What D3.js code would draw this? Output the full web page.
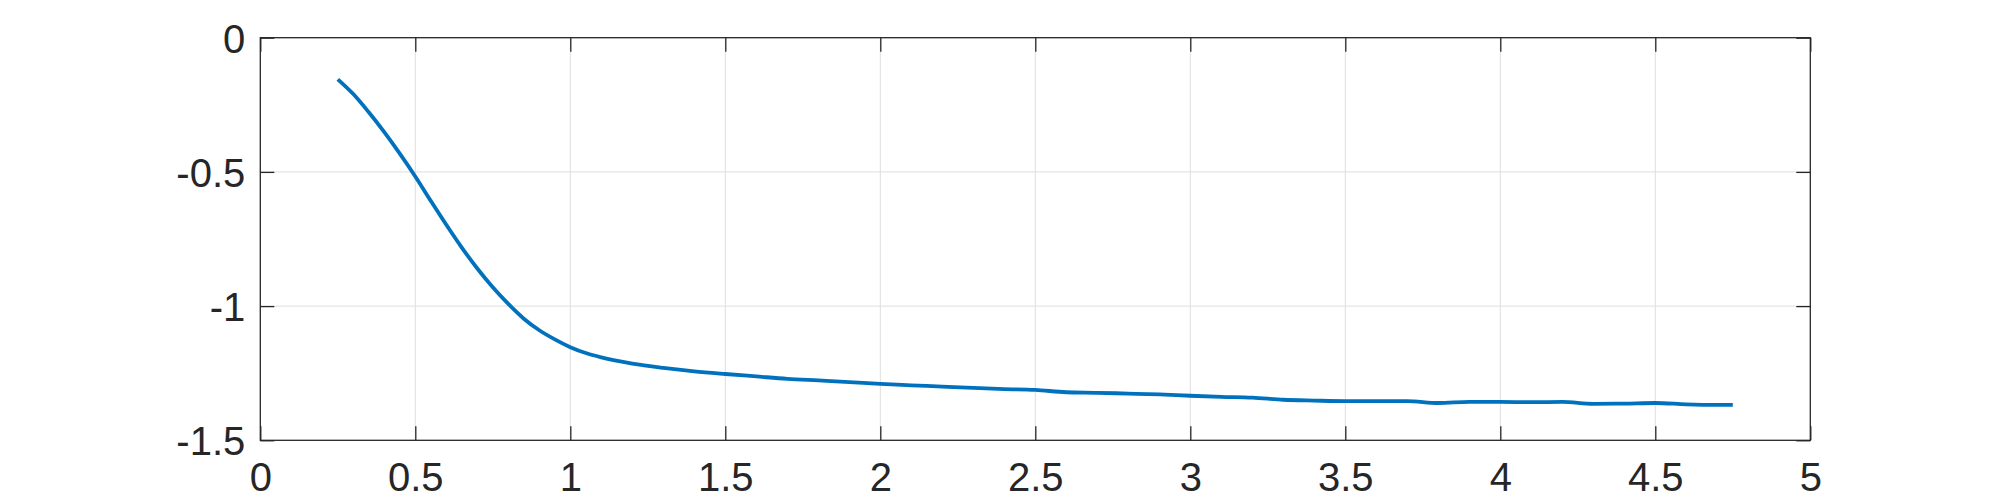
<!DOCTYPE html>
<html>
<head>
    <title>Line Plot</title>
    <script src="https://d3js.org/d3.v7.min.js"></script>
    <style>
        body { margin: 0; background: #fff; }
        .tick text { font-family: "Liberation Sans", Arial, sans-serif; font-size: 40px; fill: #262626; }
    </style>
</head>
<body>
    <svg id="chart"></svg>

    <script>
        const xValues = [0.25, 0.30, 0.35, 0.40, 0.45, 0.50, 0.55, 0.60, 0.65, 0.70,
                         0.75, 0.80, 0.85, 0.90, 0.95, 1.00, 1.05, 1.10, 1.20, 1.30,
                         1.40, 1.50, 1.60, 1.70, 1.80, 1.90, 2.00, 2.10, 2.20, 2.30,
                         2.40, 2.50, 2.60, 2.70, 2.80, 2.90, 3.00, 3.10, 3.20, 3.30,
                         3.40, 3.50, 3.60, 3.70, 3.80, 3.90, 4.00, 4.10, 4.20, 4.30,
                         4.40, 4.50, 4.60, 4.70, 4.75];
        const yValues = [-0.155, -0.210, -0.278, -0.352, -0.432, -0.517, -0.608, -0.697, -0.782, -0.860,
                         -0.930, -0.992, -1.047, -1.090, -1.124, -1.153, -1.175, -1.191, -1.214, -1.230,
                         -1.243, -1.253, -1.262, -1.271, -1.277, -1.283, -1.290, -1.295, -1.300, -1.305,
                         -1.309, -1.312, -1.321, -1.323, -1.326, -1.329, -1.334, -1.338, -1.341, -1.349,
                         -1.352, -1.354, -1.354, -1.354, -1.361, -1.357, -1.357, -1.358, -1.357, -1.364,
                         -1.363, -1.361, -1.366, -1.368, -1.368];
        const xTicks = [0, 0.5, 1, 1.5, 2, 2.5, 3, 3.5, 4, 4.5, 5];
        const yTicks = [-1.5, -1, -0.5, 0];

        const data = xValues.map((x, i) => ({ x: x, y: yValues[i] }));

        const margin = { top: 37.7, left: 260.3 };
        const width = 1550;
        const height = 402.6;

        const svg = d3.select("#chart")
            .attr("width", 2000)
            .attr("height", 500)
            .append("g")
            .attr("transform", `translate(${margin.left},${margin.top})`);

        const x = d3.scaleLinear().domain([0, 5]).range([0, width]);
        const y = d3.scaleLinear().domain([-1.5, 0]).range([height, 0]);

        // grid
        svg.append("g")
            .selectAll("line")
            .data(xTicks.slice(1, -1))
            .join("line")
            .attr("x1", d => x(d)).attr("x2", d => x(d))
            .attr("y1", 0).attr("y2", height)
            .attr("stroke", "#dedede").attr("stroke-width", 1);

        svg.append("g")
            .selectAll("line")
            .data(yTicks.slice(1, -1))
            .join("line")
            .attr("x1", 0).attr("x2", width)
            .attr("y1", d => y(d)).attr("y2", d => y(d))
            .attr("stroke", "#dedede").attr("stroke-width", 1);

        const fmt = d => String(d);

        const styleAxis = g => {
            g.select(".domain").remove();
            g.selectAll(".tick line").attr("stroke", "#262626").attr("stroke-width", 1.3);
        };

        svg.append("g")
            .attr("transform", `translate(0,${height})`)
            .call(d3.axisBottom(x).tickValues(xTicks).tickFormat(fmt).tickSizeInner(-14).tickSizeOuter(0).tickPadding(22))
            .call(styleAxis);

        svg.append("g")
            .call(d3.axisTop(x).tickValues(xTicks).tickFormat("").tickSizeInner(-14).tickSizeOuter(0))
            .call(styleAxis);

        svg.append("g")
            .call(d3.axisLeft(y).tickValues(yTicks).tickFormat(fmt).tickSizeInner(-14).tickSizeOuter(0).tickPadding(15))
            .call(styleAxis)
            .selectAll(".tick text").attr("dy", "0.36em");

        svg.append("g")
            .attr("transform", `translate(${width},0)`)
            .call(d3.axisRight(y).tickValues(yTicks).tickFormat("").tickSizeInner(-14).tickSizeOuter(0))
            .call(styleAxis);

        // box
        svg.append("rect")
            .attr("width", width).attr("height", height)
            .attr("fill", "none")
            .attr("stroke", "#262626").attr("stroke-width", 1.3);

        const line = d3.line()
            .x(d => x(d.x))
            .y(d => y(d.y))
            .curve(d3.curveMonotoneX);

        svg.append("path")
            .datum(data)
            .attr("d", line)
            .attr("fill", "none")
            .attr("stroke", "#0072BD")
            .attr("stroke-width", 3.8)
            .attr("stroke-linejoin", "round");
    </script>
</body>
</html>
